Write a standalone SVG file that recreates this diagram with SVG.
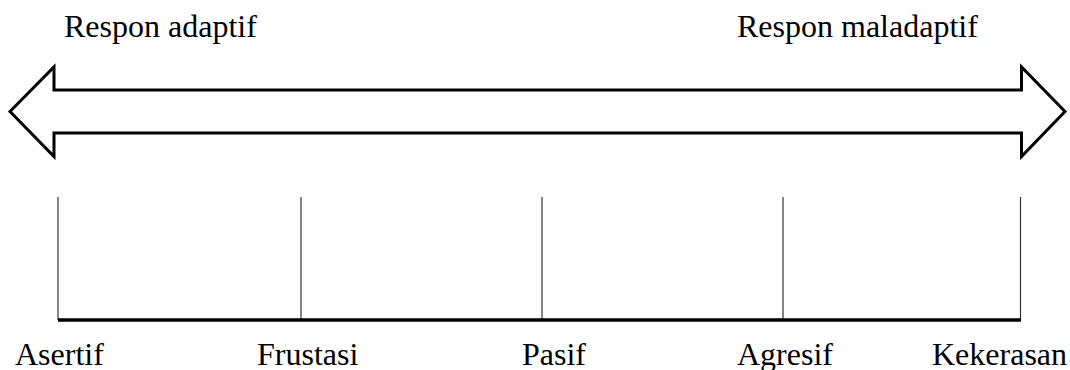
<svg xmlns="http://www.w3.org/2000/svg" width="1070" height="370" viewBox="0 0 1070 370">
<style>
text{font-family:'Liberation Serif',serif;font-size:32px;fill:#000}
.tick{stroke:#333;stroke-width:1.2}
</style>
<rect width="1070" height="370" fill="#fff"/>
<g id="arrow">
<polygon points="10,111.5 54,67 54,90 1021.5,90 1021.5,67 1065,111.5 1021.5,156.5 1021.5,133 54,133 54,156.5" fill="#fff" stroke="#000" stroke-width="3" stroke-linejoin="miter"/>
</g>
<g id="labels-top" font-family="Liberation Serif">
<text x="64" y="37">Respon adaptif</text>
<text x="737" y="37">Respon maladaptif</text>
</g>
<g id="connectors">
<line class="tick" x1="58" y1="197" x2="58" y2="320"/>
<line class="tick" x1="301" y1="197" x2="301" y2="320"/>
<line class="tick" x1="542" y1="197" x2="542" y2="320"/>
<line class="tick" x1="783" y1="197" x2="783" y2="320"/>
<line class="tick" x1="1020.5" y1="197" x2="1020.5" y2="320"/>
<line x1="58" y1="320" x2="1021" y2="320" stroke="#000" stroke-width="3.5"/>
</g>
<g id="n-asertif"><text x="15" y="365">Asertif</text></g>
<g id="n-frustasi"><text x="257" y="365">Frustasi</text></g>
<g id="n-pasif"><text x="522" y="365">Pasif</text></g>
<g id="n-agresif"><text x="737" y="365">Agresif</text></g>
<g id="n-kekerasan"><text x="932" y="365">Kekerasan</text></g>
</svg>
